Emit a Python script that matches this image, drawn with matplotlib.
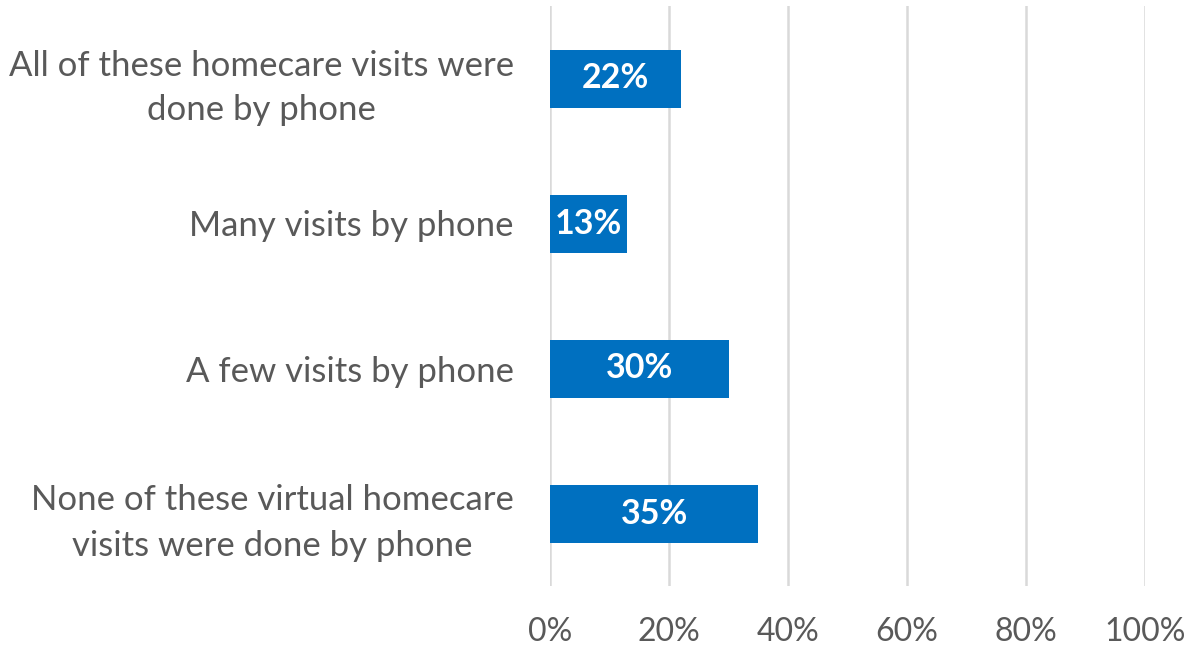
import matplotlib.pyplot as plt
from matplotlib.ticker import PercentFormatter

plt.rcParams['font.family'] = ['Lato', 'DejaVu Sans']

categories = [
    'All of these homecare visits were\ndone by phone',
    'Many visits by phone',
    'A few visits by phone',
    'None of these virtual homecare\nvisits were done by phone',
]
shares = [22, 13, 30, 35]
xticks = [0, 20, 40, 60, 80, 100]

blue = '#0070C0'
grey_text = '#595959'
grid_grey = '#D9D9D9'

fig = plt.figure(figsize=(11.91, 6.49), dpi=100)
ax = fig.add_axes([550 / 1191, 1 - 586 / 649, 595 / 1191, 580 / 649])

ypos = list(range(len(categories)))
bars = ax.barh(ypos, shares, height=0.4, color=blue, zorder=3)
for bar, v in zip(bars, shares):
    ax.text(v / 2, bar.get_y() + bar.get_height() / 2, f'{v}%',
            ha='center', va='center', color='white', fontsize=24.5,
            fontweight='bold', zorder=4)

ax.set_xlim(0, 100)
ax.set_ylim(len(categories) - 0.5, -0.5)
ax.set_xticks(xticks)
ax.xaxis.set_major_formatter(PercentFormatter(decimals=0))
ax.set_yticks(ypos)
ax.set_yticklabels(categories, multialignment='center', linespacing=1.5)
ax.tick_params(axis='y', length=0, pad=26, labelsize=25, labelcolor=grey_text)
ax.tick_params(axis='x', length=0, pad=22, labelsize=23, labelcolor=grey_text)

ax.grid(axis='x', color=grid_grey, linewidth=1.8, zorder=0)
for s in ax.spines.values():
    s.set_visible(False)

fig.savefig('out.png', dpi=100)
